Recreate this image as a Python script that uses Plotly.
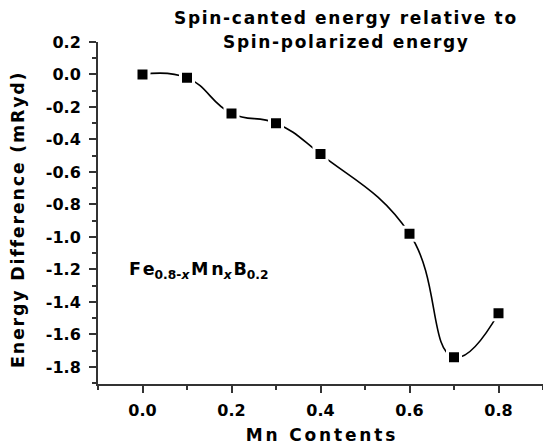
import plotly.graph_objects as go

# Mn content x in Fe(0.8-x)Mn(x)B(0.2) and spin-canted minus spin-polarized energy
mn_content = [0.0, 0.1, 0.2, 0.3, 0.4, 0.6, 0.7, 0.8]
energy_diff = [0.0, -0.02, -0.24, -0.30, -0.49, -0.98, -1.74, -1.47]

x_ticks = [0.0, 0.2, 0.4, 0.6, 0.8]
x_labels = ["0.0", "0.2", "0.4", "0.6", "0.8"]
y_ticks = [0.2, 0.0, -0.2, -0.4, -0.6, -0.8, -1.0, -1.2, -1.4, -1.6, -1.8]
y_labels = ["0.2", "0.0", "-0.2", "-0.4", "-0.6", "-0.8", "-1.0", "-1.2", "-1.4", "-1.6", "-1.8"]

title_lines = ["Spin-canted energy relative to", "Spin-polarized energy"]
x_title = "Mn Contents"
y_title = "Energy Difference (mRyd)"

FONT = "DejaVu Sans"
AXIS_COLOR = "#333333"
HAIR = "\u200a"   # hair space, used for letter tracking
THIN = "\u2006"   # six-per-em space


def tracked(text, sep=HAIR):
    """Spread the letters of a plain string apart."""
    return sep.join(text)


W, H = 543, 446
L, R, T, B = 98, 0, 42, 62
plot_w = W - L - R
plot_h = H - T - B

fig = go.Figure()
fig.add_trace(go.Scatter(
    x=mn_content, y=energy_diff,
    mode="lines+markers",
    line=dict(color="black", width=1.6, shape="spline", smoothing=1.3),
    marker=dict(symbol="square", size=13, color="black",
                line=dict(color="white", width=3)),
    showlegend=False,
    cliponaxis=False,
))

axis_common = dict(
    showline=True, linecolor=AXIS_COLOR, linewidth=2,
    showgrid=False, zeroline=False,
    ticks="outside", ticklen=7, tickwidth=1.5, tickcolor=AXIS_COLOR,
    tickfont=dict(family=FONT, size=16, color="black", weight="bold"),
    mirror=False,
)

fig.update_xaxes(
    range=[-0.1, 0.9], tickvals=x_ticks, ticktext=x_labels,
    minor=dict(ticks="outside", ticklen=4, tickwidth=1.5, tickcolor=AXIS_COLOR, dtick=0.1),
    title=dict(text=tracked(x_title, THIN),
               font=dict(family=FONT, size=17, color="black", weight="bold"),
               standoff=10),
    ticklabelstandoff=4,
    **axis_common,
)
fig.update_yaxes(
    range=[-1.905, 0.2], tickvals=y_ticks, ticktext=y_labels,
    minor=dict(ticks="outside", ticklen=4, tickwidth=1.5, tickcolor=AXIS_COLOR, dtick=0.1),
    ticklabelstandoff=5,
    **axis_common,
)

# Vertical axis title, placed a little below the domain centre
fig.add_annotation(
    text=tracked(y_title),
    textangle=-90,
    x=(18 - L) / plot_w, xref="paper", xanchor="center",
    y=(H - B - 220) / plot_h, yref="paper", yanchor="middle",
    showarrow=False, font=dict(family=FONT, size=17.5, color="black", weight="bold"),
)

# Composition label
fig.add_annotation(
    text=("F" + HAIR + "e<sub>0.8-<i>x</i></sub>" + HAIR + "M" + THIN + "n<sub><i>x</i></sub>"
          + HAIR + "B<sub>0.2</sub>"),
    x=-0.035, y=-1.205, xref="x", yref="y", xanchor="left", yanchor="middle",
    showarrow=False, font=dict(family=FONT, size=17.5, color="black", weight="bold"),
)

# Two-line heading above the plot
for line_text, py in zip(title_lines, [18, 42]):
    fig.add_annotation(
        text=tracked(line_text),
        x=(345 - L) / plot_w, xref="paper", xanchor="center",
        y=(H - B - py) / plot_h, yref="paper", yanchor="middle",
        showarrow=False, font=dict(family=FONT, size=17, color="black", weight="bold"),
    )

fig.update_layout(
    width=W, height=H,
    margin=dict(l=L, r=R, t=T, b=B),
    paper_bgcolor="white", plot_bgcolor="white",
)

fig.write_html("out.html")
